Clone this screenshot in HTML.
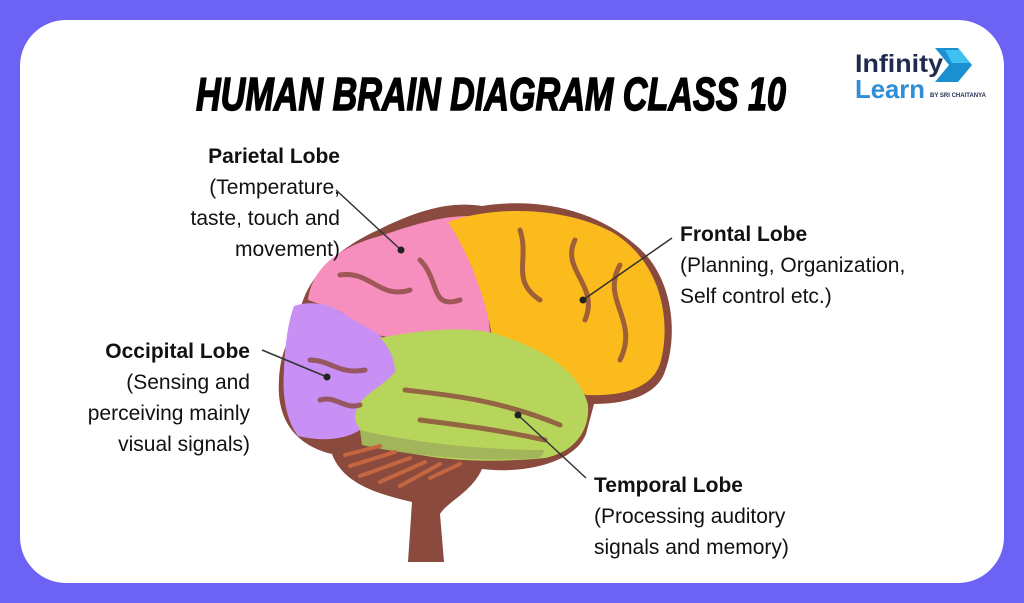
<!DOCTYPE html>
<html><head><meta charset="utf-8"><style>
html,body{margin:0;padding:0;}
body{width:1024px;height:603px;background:#6c62f4;position:relative;overflow:hidden;font-family:"Liberation Sans",sans-serif;}
.card{position:absolute;left:20px;top:20px;width:984px;height:563px;background:#fff;border-radius:46px;}
.lbl{position:absolute;font-size:21px;line-height:31px;color:#111;}
.lbl b{font-weight:bold;}
.r{text-align:right;}
</style></head><body>
<div class="card"></div>
<svg width="1024" height="603" style="position:absolute;left:0;top:0">
<text x="196" y="110" textLength="590" lengthAdjust="spacingAndGlyphs" font-family="Liberation Sans" font-weight="bold" font-style="italic" font-size="46" fill="#000" stroke="#000" stroke-width="1.5">HUMAN BRAIN DIAGRAM CLASS 10</text>
<g>
<path d="M935,48 L958,48 L972,65 L958,82 L935,82 L949,65 Z" fill="#1c8fd0"/>
<path d="M945,50 L960,50 L970,63 L952,63 Z" fill="#3ec0f0"/>
<text x="855" y="72" font-family="Liberation Sans" font-weight="bold" font-size="25" fill="#1f2a4f" textLength="88" lengthAdjust="spacingAndGlyphs">Infinity</text>
<text x="855" y="98" font-family="Liberation Sans" font-weight="bold" font-size="26" fill="#2e8ed6" textLength="70" lengthAdjust="spacingAndGlyphs">Learn</text>
<text x="930" y="97" font-family="Liberation Sans" font-weight="bold" font-size="6" fill="#1f2a4f">BY SRI CHAITANYA</text>
</g>
<path d="M298,325 C300,280 338,248 378,230 C418,210 450,201 482,206 C545,196 607,213 647,256 C677,292 676,345 664,374 C654,398 620,404 594,404 L586,434 C574,464 522,474 482,469 C472,492 447,502 440,514 L444,562 L408,562 L412,502 C378,494 343,484 332,454 C298,446 276,422 279,380 C280,352 290,336 298,325 Z" fill="#8a4a3e"/>
<path d="M308,300 C312,266 342,246 380,236 C410,226 440,216 468,216 C478,250 486,290 490,332 L405,340 L360,332 L342,312 Z" fill="#f68fbd"/>
<path d="M448,222 C492,206 562,206 612,232 C662,262 672,322 660,364 C650,392 615,396 586,395 C562,380 530,360 492,336 C486,300 470,255 448,222 Z" fill="#fbbb1d"/>
<path d="M294,306 C312,300 332,304 347,316 C367,328 388,336 396,355 C398,380 382,400 372,417 C362,437 330,444 298,436 C286,420 282,395 284,370 C285,345 288,322 294,306 Z" fill="#c88ff4"/>
<path d="M380,338 C420,330 470,325 500,335 C545,350 580,372 588,405 C590,430 575,452 545,458 C505,462 460,462 420,455 C385,450 360,440 355,418 C356,395 380,390 395,372 C395,358 388,345 380,338 Z" fill="#b8d55b"/>
<path d="M360,430 C400,440 470,450 545,450 L540,458 C490,462 420,458 362,445 Z" fill="#a3b55a"/>
<g stroke="#c4663f" stroke-width="4" stroke-linecap="round">
<line x1="345" y1="455" x2="380" y2="446"/><line x1="350" y1="466" x2="395" y2="452"/><line x1="360" y1="476" x2="410" y2="458"/>
<line x1="380" y1="482" x2="425" y2="462"/><line x1="400" y1="486" x2="440" y2="464"/><line x1="430" y1="478" x2="460" y2="464"/>
</g>
<g fill="none" stroke="#8a4a3e" stroke-width="5" stroke-linecap="round" opacity="0.8">
<path d="M520,230 C530,260 510,280 540,300"/><path d="M575,240 C560,270 600,285 585,320"/><path d="M620,265 C600,300 640,320 620,360"/>
<path d="M340,275 C370,270 380,300 410,290"/><path d="M420,260 C440,280 430,310 460,300"/>
<path d="M405,390 C450,395 500,400 560,425"/><path d="M420,420 C460,425 500,430 545,440"/>
<path d="M310,360 C330,360 340,375 365,370"/><path d="M320,400 C335,395 345,410 360,405"/>
</g>
<g stroke="#333" stroke-width="1.5">
<line x1="336" y1="190" x2="401" y2="250"/>
<line x1="672" y1="238" x2="583" y2="300"/>
<line x1="262" y1="350" x2="327" y2="377"/>
<line x1="518" y1="415" x2="586" y2="478"/>
</g>
<g fill="#222"><circle cx="401" cy="250" r="3.5"/><circle cx="583" cy="300" r="3.5"/><circle cx="327" cy="377" r="3.5"/><circle cx="518" cy="415" r="3.5"/></g>
</svg>
<div class="lbl r" style="right:684px;top:141px;width:260px"><b>Parietal Lobe</b><br>(Temperature,<br>taste, touch and<br>movement)</div>
<div class="lbl" style="left:680px;top:219px;width:320px"><b>Frontal Lobe</b><br>(Planning, Organization,<br>Self control etc.)</div>
<div class="lbl r" style="right:774px;top:336px;width:240px"><b>Occipital Lobe</b><br>(Sensing and<br>perceiving mainly<br>visual signals)</div>
<div class="lbl" style="left:594px;top:470px;width:320px"><b>Temporal Lobe</b><br>(Processing auditory<br>signals and memory)</div>
</body></html>
